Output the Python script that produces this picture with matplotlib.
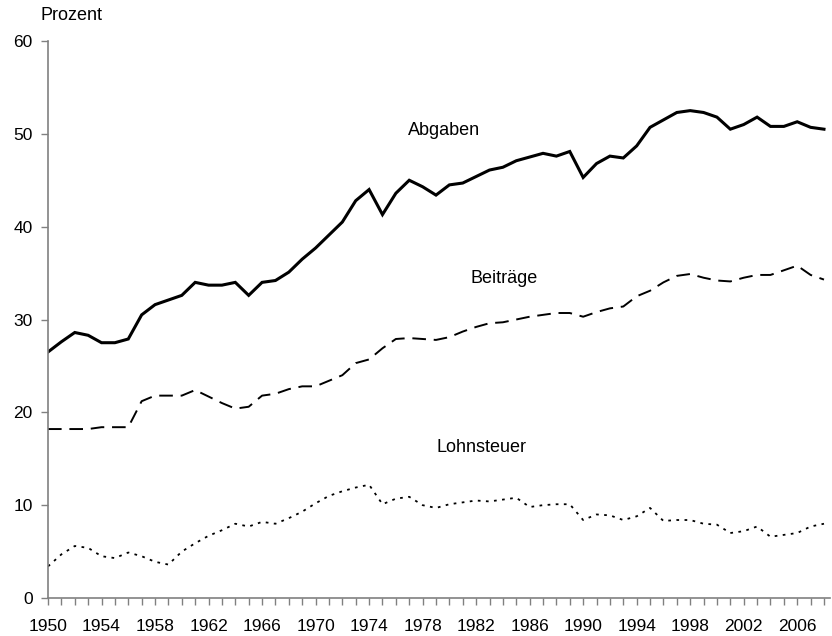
import numpy as np
import matplotlib
matplotlib.use("Agg")
import matplotlib.pyplot as plt

plt.rcParams['font.family'] = ['Liberation Sans', 'DejaVu Sans']

years = np.arange(1950, 2009)

# Abgabenquote insgesamt
abgaben = [26.5, 27.6, 28.6, 28.3, 27.5, 27.5, 27.9, 30.5, 31.6, 32.1,
           32.6, 34.0, 33.7, 33.7, 34.0, 32.6, 34.0, 34.2, 35.1, 36.5,
           37.7, 39.1, 40.5, 42.8, 44.0, 41.3, 43.6, 45.0, 44.3, 43.4,
           44.5, 44.7, 45.4, 46.1, 46.4, 47.1, 47.5, 47.9, 47.6, 48.1,
           45.3, 46.8, 47.6, 47.4, 48.7, 50.7, 51.5, 52.3, 52.5, 52.3,
           51.8, 50.5, 51.0, 51.8, 50.8, 50.8, 51.3, 50.7, 50.5]

# Sozialversicherungsbeiträge
beitraege = [18.2, 18.2, 18.2, 18.2, 18.4, 18.4, 18.4, 21.2, 21.8, 21.8,
             21.8, 22.4, 21.7, 21.0, 20.4, 20.6, 21.8, 22.0, 22.5, 22.8,
             22.8, 23.4, 24.0, 25.3, 25.7, 26.9, 27.9, 28.0, 27.9, 27.8,
             28.1, 28.7, 29.2, 29.6, 29.7, 30.0, 30.3, 30.5, 30.7, 30.7,
             30.3, 30.8, 31.2, 31.4, 32.5, 33.1, 34.0, 34.7, 34.9, 34.5,
             34.2, 34.1, 34.5, 34.8, 34.8, 35.3, 35.8, 34.8, 34.3]

# Lohnsteuer
lohnsteuer = [3.4, 4.7, 5.6, 5.4, 4.5, 4.3, 4.9, 4.5, 3.9, 3.6,
              5.0, 5.9, 6.7, 7.3, 8.0, 7.7, 8.2, 8.0, 8.6, 9.3,
              10.2, 11.0, 11.5, 11.9, 12.2, 10.1, 10.7, 10.9, 10.0, 9.7,
              10.1, 10.3, 10.5, 10.4, 10.6, 10.8, 9.8, 10.0, 10.1, 10.1,
              8.4, 9.0, 8.9, 8.4, 8.8, 9.7, 8.3, 8.4, 8.4, 8.0,
              7.9, 7.0, 7.2, 7.7, 6.6, 6.8, 7.0, 7.7, 8.0]

label_years = list(range(1950, 2009, 4))

fig = plt.figure(figsize=(8.32, 6.36), dpi=100)
ax = fig.add_axes([48 / 832, 1 - 598 / 636, (830 - 48) / 832, (598 - 41) / 636])

ax.plot(years, abgaben, color='black', lw=2.2, solid_joinstyle='miter')
ax.plot(years, beitraege, color='black', lw=1.4, dashes=(7, 4))
ax.plot(years, lohnsteuer, color='black', lw=1.3, dashes=(1.5, 3))

ax.set_xlim(1950, 2008.45)
ax.set_ylim(0, 60)
ax.set_yticks(range(0, 61, 10))
ax.set_xticks(years)
ax.set_xticklabels([str(y) if y in label_years else '' for y in years])

for s in ['top', 'right']:
    ax.spines[s].set_visible(False)
for s in ['left', 'bottom']:
    ax.spines[s].set_color('#808080')
    ax.spines[s].set_linewidth(1.2)

ax.tick_params(axis='both', direction='out', length=5, width=1,
               color='#808080', labelsize=12.5, labelcolor='black')
ax.tick_params(axis='x', pad=10)
ax.tick_params(axis='y', pad=6)

ax.text(1979.6, 50.4, 'Abgaben', ha='center', va='center', fontsize=13)
ax.text(1984.1, 34.4, 'Beiträge', ha='center', va='center', fontsize=13)
ax.text(1982.4, 16.2, 'Lohnsteuer', ha='center', va='center', fontsize=13)

fig.text(72 / 832, 1 - 15.5 / 636, 'Prozent', ha='center', va='center', fontsize=13)

fig.savefig('out.png', dpi=100)
